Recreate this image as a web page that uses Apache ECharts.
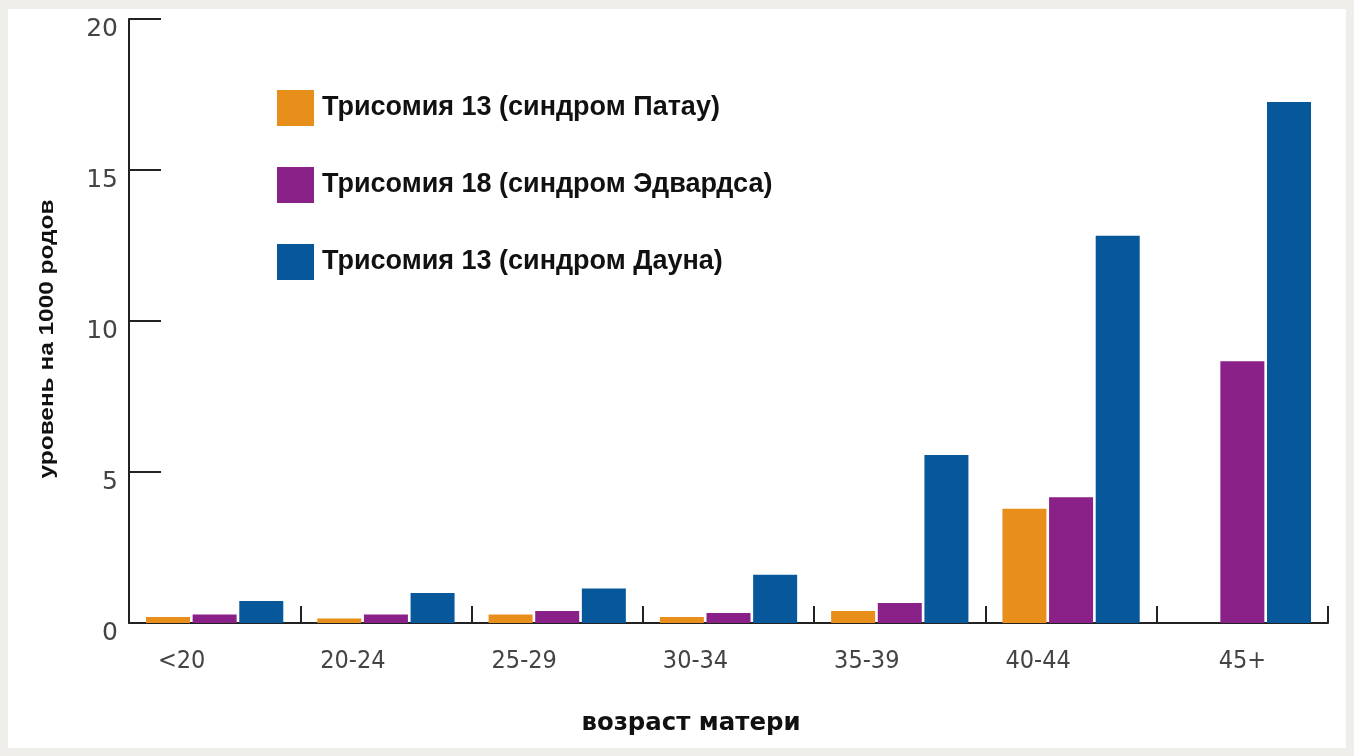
<!DOCTYPE html>
<html>
<head>
<meta charset="utf-8">
<script src="https://cdn.jsdelivr.net/npm/echarts@6/dist/echarts.min.js"></script>
<style>
html,body{margin:0;padding:0;background:#efeeeb;}
#chart{width:1354px;height:756px;}
</style>
</head>
<body>
<div id="chart"></div>
<script>
const categories = ['<20', '20-24', '25-29', '30-34', '35-39', '40-44', '45+'];
const seriesNames = ['Трисомия 13 (синдром Патау)', 'Трисомия 18 (синдром Эдвардса)', 'Трисомия 13 (синдром Дауна)'];
const patau = [0.2, 0.15, 0.28, 0.2, 0.4, 3.78, null];
const edwards = [0.28, 0.28, 0.4, 0.33, 0.66, 4.16, 8.67];
const down = [0.73, 0.99, 1.14, 1.6, 5.56, 12.82, 17.25];
const yTicks = [0, 5, 10, 15, 20];
const xAxisTitle = 'возраст матери';
const yAxisTitle = 'уровень на 1000 родов';

const colors = ['#e88f1b', '#8a2188', '#06589b'];
const chart = echarts.init(document.getElementById('chart'), null, {renderer: 'canvas'});
const data = [patau, edwards, down];

chart.setOption({
  backgroundColor: '#efeeeb',
  animation: false,
  graphic: [
    {type: 'rect', z: -10, shape: {x: 8, y: 9, width: 1338, height: 739}, style: {fill: '#ffffff'}},
    {type: 'text', x: 47, y: 339, rotation: Math.PI / 2, scaleX: 1.22,
     style: {text: yAxisTitle, fill: '#111', font: 'bold 20px "Liberation Sans", Arial, sans-serif', textAlign: 'center', textVerticalAlign: 'middle'}},
    {type: 'text', x: 691, y: 724, scaleX: 1.13,
     style: {text: xAxisTitle, fill: '#111', font: 'bold 24px "DejaVu Sans Condensed", "Liberation Sans", sans-serif', textAlign: 'center', textVerticalAlign: 'middle'}}
  ],
  legend: {
    orient: 'vertical', left: 277, top: 90, padding: 0,
    itemWidth: 37, itemHeight: 36, itemGap: 41,
    icon: 'rect',
    data: seriesNames,
    textStyle: {fontFamily: '"Liberation Sans", Arial, sans-serif', fontWeight: 'bold', fontSize: 27, color: '#111', padding: [0, 0, 0, 3]}
  },
  grid: {left: 129, top: 19, right: 26, bottom: 133, containLabel: false},
  xAxis: {
    type: 'category', data: categories,
    axisLine: {lineStyle: {color: '#222', width: 2}},
    axisTick: {show: true, inside: true, length: 17, interval: 0, lineStyle: {color: '#222', width: 2}},
    axisLabel: {
      margin: 26, interval: 0,
      formatter: (v, i) => i < categories.length - 1 ? '{s|' + v + '}' : '{c|' + v + '}',
      rich: {
        s: {color: '#444', fontSize: 25, fontFamily: '"DejaVu Sans Condensed", sans-serif', padding: [0, 66, 0, 0]},
        c: {color: '#444', fontSize: 25, fontFamily: '"DejaVu Sans Condensed", sans-serif'}
      }
    }
  },
  yAxis: {
    type: 'value', min: 0, max: 20, interval: 5,
    axisLine: {show: true, lineStyle: {color: '#222', width: 2}},
    axisTick: {show: true, inside: true, length: 32, lineStyle: {color: '#222', width: 2}},
    splitLine: {show: false},
    axisLabel: {margin: 11, color: '#444', fontSize: 25, fontFamily: '"DejaVu Sans", sans-serif',
      verticalAlign: 'top', lineHeight: 20,
      formatter: v => yTicks.includes(v) ? String(v) : ''}
  },
  series: seriesNames.map((name, i) => ({
    name, type: 'bar', data: data[i],
    barWidth: 44, barGap: '6%',
    itemStyle: {color: colors[i]}
  }))
});
</script>
</body>
</html>
